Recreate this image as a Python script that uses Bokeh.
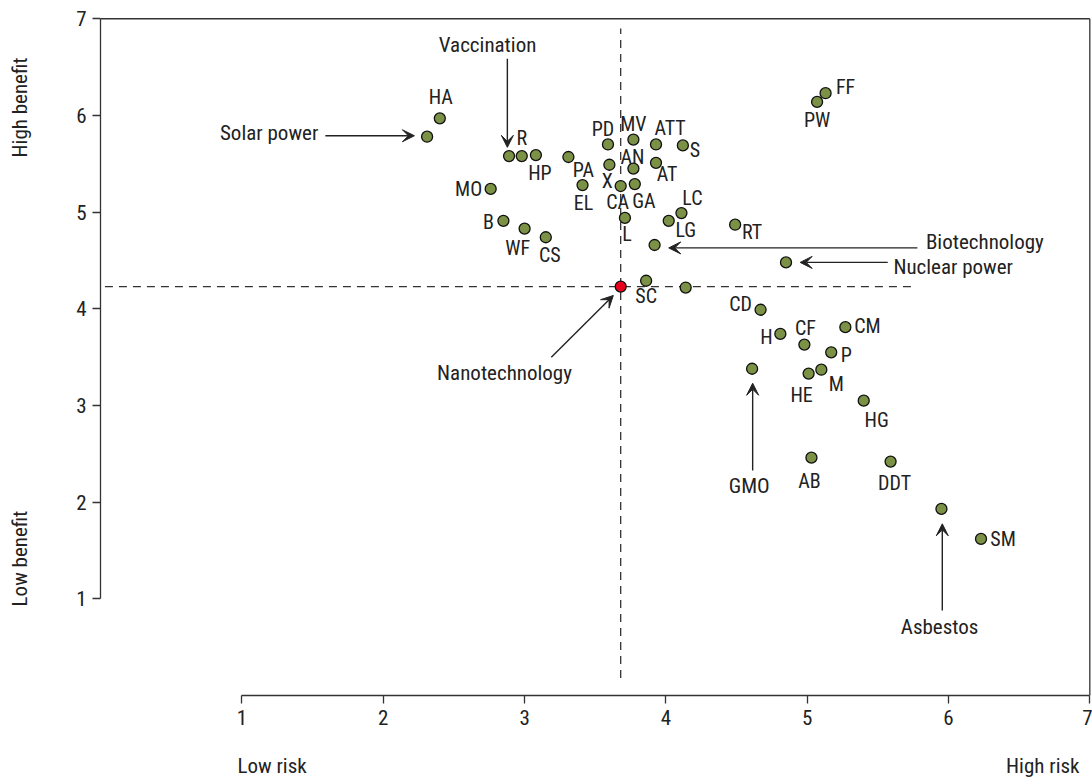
import math
from bokeh.plotting import figure
from bokeh.models import (ColumnDataSource, Arrow, VeeHead,
                          FixedTicker, LinearAxis, Range1d)
from bokeh.core.properties import value
from bokeh.embed import file_html
from bokeh.resources import INLINE

# ---------------- data ----------------
codes = ["HA", "Solar power", "Vaccination", "R", "HP", "PA", "PD", "MV", "ATT", "S",
         "X", "AN", "AT", "EL", "CA", "GA", "MO", "B", "WF", "CS",
         "L", "LG", "LC", "Biotechnology", "SC", "FF", "PW", "RT", "Nuclear power", "FP",
         "CD", "H", "CF", "CM", "P", "GMO", "HE", "M", "HG", "AB",
         "DDT", "Asbestos", "SM"]
risk = [2.40, 2.31, 2.89, 2.98, 3.08, 3.31, 3.59, 3.77, 3.93, 4.12,
        3.60, 3.77, 3.93, 3.41, 3.68, 3.78, 2.76, 2.85, 3.00, 3.15,
        3.71, 4.02, 4.11, 3.92, 3.86, 5.13, 5.07, 4.49, 4.85, 4.14,
        4.67, 4.81, 4.98, 5.27, 5.17, 4.61, 5.01, 5.10, 5.40, 5.03,
        5.59, 5.95, 6.23]
benefit = [5.97, 5.78, 5.58, 5.58, 5.59, 5.57, 5.70, 5.75, 5.70, 5.69,
           5.49, 5.45, 5.51, 5.28, 5.27, 5.29, 5.24, 4.91, 4.83, 4.74,
           4.94, 4.91, 4.99, 4.66, 4.29, 6.23, 6.14, 4.87, 4.48, 4.22,
           3.99, 3.74, 3.63, 3.81, 3.55, 3.38, 3.33, 3.37, 3.05, 2.46,
           2.42, 1.93, 1.62]
nano_name = "Nanotechnology"
nano_risk = 3.68
nano_benefit = 4.23

x_ticks = [1, 2, 3, 4, 5, 6, 7]
y_ticks = [1, 2, 3, 4, 5, 6, 7]
end_labels = ["High benefit", "Low benefit", "Low risk", "High risk"]

# ---------------- layout (styles / placements) ----------------
FONT = "Roboto Condensed, DejaVu Sans Condensed, Liberation Sans Narrow, Roboto, sans-serif"
TXT = "#222222"
LINE = "#333333"
OLIVE = "#7b9145"

# placement of the axis end labels (data coords of the canvas margin area)
end_pos = [(-0.568, 6.082, math.pi / 2, "center"),
           (-0.568, 1.417, math.pi / 2, "center"),
           (0.968, -0.725, 0, "left"),
           (6.927, -0.725, 0, "right")]

label_off = {
    "HA": (1, -21), "R": (0, -18), "HP": (4, 18), "PA": (15, 13), "PD": (-5, -15),
    "MV": (0, -16), "ATT": (14, -16), "S": (12, 5), "X": (-2, 16), "AN": (-1, -12),
    "AT": (11, 11), "EL": (1, 18), "CA": (-3, 16), "GA": (9, 17), "MO": (-22, 0),
    "B": (-15, 1), "WF": (-7, 19), "CS": (4, 18), "L": (2, 16), "LG": (17, 9),
    "LC": (11, -15), "SC": (0, 15), "FF": (20, -6), "PW": (0, 18), "RT": (17, 7),
    "CD": (-20, -6), "H": (-14, 3), "CF": (1, -17), "CM": (22, -1), "P": (15, 3),
    "HE": (-7, 21), "M": (15, 14), "HG": (13, 19), "AB": (-2, 23), "DDT": (4, 21),
    "SM": (22, 0),
}

annot = {
    "Solar power":   dict(tip=(-0.09, 0.01), tail=(-0.72, 0.01), txt=(-0.77, 0.035), align="right"),
    "Vaccination":   dict(tip=(-0.012, 0.09), tail=(-0.012, 1.006), txt=(-0.152, 1.144), align="center"),
    "Biotechnology": dict(tip=(0.10, -0.03), tail=(1.86, -0.03), txt=(1.92, 0.03), align="left"),
    "Nuclear power": dict(tip=(0.10, 0.0), tail=(0.72, 0.0), txt=(0.76, -0.046), align="left"),
    "GMO":           dict(tip=(0.004, -0.15), tail=(0.004, -1.053), txt=(-0.02, -1.21), align="center"),
    "Asbestos":      dict(tip=(0.006, -0.154), tail=(0.006, -1.05), txt=(-0.013, -1.224), align="center"),
}
nano_annot = dict(tip=(-0.052, -0.092), tail=(-0.491, -0.73), txt=(-0.822, -0.896), align="center")

# ---------------- figure: frame covers the whole canvas ----------------
p = figure(width=1092, height=783, x_range=Range1d(-0.709, 7.019), y_range=Range1d(-0.910, 7.189),
           output_backend="svg", toolbar_location=None, x_axis_location=None,
           y_axis_location=None, min_border=0)
p.grid.visible = False
p.outline_line_color = None
p.background_fill_color = "white"
p.border_fill_color = "white"

def style_axis(ax, ticks):
    ax.ticker = FixedTicker(ticks=ticks)
    ax.bounds = (1, 7)
    ax.fixed_location = 0
    ax.axis_line_color = LINE
    ax.axis_line_width = 1.3
    ax.major_tick_line_color = LINE
    ax.major_tick_line_width = 1.3
    ax.major_tick_out = 8
    ax.major_tick_in = 0
    ax.minor_tick_line_color = None
    ax.major_label_text_font = FONT
    ax.major_label_text_font_size = "21px"
    ax.major_label_text_color = TXT
    ax.major_label_standoff = 6

xa = LinearAxis()
style_axis(xa, x_ticks)
p.add_layout(xa, "below")
ya = LinearAxis()
style_axis(ya, y_ticks)
p.add_layout(ya, "left")

# box: top and right sides
p.line([0, 7], [7, 7], line_color=LINE, line_width=1.3)
p.line([7, 7], [0, 7], line_color=LINE, line_width=1.3)

# dashed cross through nanotechnology
p.line([nano_risk, nano_risk], [0.18, 6.90], line_color=LINE, line_width=1.3, line_dash="8 6")
p.line([0.03, 5.77], [nano_benefit, nano_benefit], line_color=LINE, line_width=1.3, line_dash="8 6")

# points
src = ColumnDataSource(dict(x=risk, y=benefit, name=codes))
p.scatter("x", "y", source=src, marker="circle", size=11, fill_color=OLIVE,
          line_color="#111111", line_width=1.3)
p.scatter([nano_risk], [nano_benefit], marker="circle", size=11, fill_color="#e8001c",
          line_color="#111111", line_width=1.3)

# code labels
lx, ly, lt, ox, oy = [], [], [], [], []
for c, xv, yv in zip(codes, risk, benefit):
    if c in label_off:
        lx.append(xv); ly.append(yv); lt.append(c)
        ox.append(label_off[c][0]); oy.append(label_off[c][1])
lsrc = ColumnDataSource(dict(x=lx, y=ly, text=lt, xo=ox, yo=oy))
p.text("x", "y", text="text", x_offset="xo", y_offset="yo", source=lsrc,
       text_font=value(FONT), text_font_size="20px", text_color=TXT,
       text_align="center", text_baseline="middle")

def add_annot(name, xv, yv, a):
    head = VeeHead(size=12, fill_color="#222222", line_color="#222222", line_width=1)
    p.add_layout(Arrow(end=head, x_start=xv + a["tail"][0], y_start=yv + a["tail"][1],
                       x_end=xv + a["tip"][0], y_end=yv + a["tip"][1],
                       line_color="#222222", line_width=1.4))
    p.text([xv + a["txt"][0]], [yv + a["txt"][1]], text=[name],
           text_font=value(FONT), text_font_size="21px", text_color=TXT,
           text_align=a["align"], text_baseline="middle")

for c, xv, yv in zip(codes, risk, benefit):
    if c in annot:
        add_annot(c, xv, yv, annot[c])
add_annot(nano_name, nano_risk, nano_benefit, nano_annot)

# axis end labels
for txt, (xx, yy, ang, al) in zip(end_labels, end_pos):
    p.text([xx], [yy], text=[txt], angle=ang, text_font=value(FONT), text_font_size="21px",
           text_color=TXT, text_align=al, text_baseline="middle")

open("out.html", "w").write(file_html(p, INLINE))
